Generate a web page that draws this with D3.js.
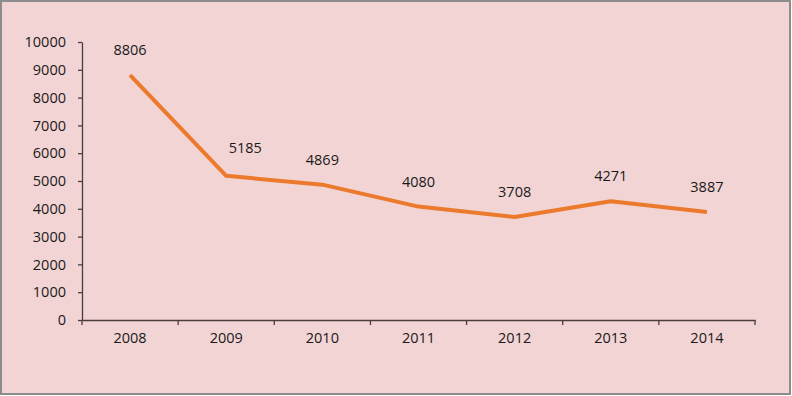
<!DOCTYPE html>
<html><head><meta charset="utf-8">
<script src="https://cdn.jsdelivr.net/npm/d3@7"></script>
<style>body{margin:0;background:#fff}svg{display:block}</style>
</head><body>
<script>
const years = ["2008","2009","2010","2011","2012","2013","2014"];
const values = [8806,5185,4869,4080,3708,4271,3887];
const yTicks = [0,1000,2000,3000,4000,5000,6000,7000,8000,9000,10000];

(function(){
const W = 792, H = 396;
const svg = d3.select("body").append("svg").attr("width", W).attr("height", H);
svg.append("rect").attr("x",1).attr("y",1).attr("width",W-3).attr("height",H-3)
  .attr("fill","#f2d4d4").attr("stroke","#8c8c8c").attr("stroke-width",2);

const mLeft = 82, mRight = 755, mTop = 42, mBottom = 320;
const x = d3.scaleBand().domain(years).range([mLeft, mRight]);
const y = d3.scaleLinear().domain([0,10000]).range([mBottom, mTop]);
const font = "'Open Sans', sans-serif";
const fs = 14.5;

const ya = svg.append("g").attr("transform",`translate(${mLeft},0)`)
  .call(d3.axisLeft(y).tickValues(yTicks).tickFormat(d3.format("d")).tickSize(4).tickPadding(12).tickSizeOuter(0));
const xa = svg.append("g").attr("transform",`translate(0,${mBottom})`)
  .call(d3.axisBottom(x).tickSize(0).tickPadding(13));
[ya, xa].forEach(g => {
  g.selectAll("path,line").attr("stroke","#4a3c3c").attr("stroke-width",1.3);
  g.selectAll("text").attr("font-family",font).attr("font-size",fs).attr("fill","#1a1a1a");
});
svg.append("g").selectAll("line").data(years.concat(["end"])).join("line")
  .attr("x1",(d,i)=> i < years.length ? x(d) : mRight)
  .attr("x2",(d,i)=> i < years.length ? x(d) : mRight)
  .attr("y1",mBottom).attr("y2",mBottom+5)
  .attr("stroke","#4a3c3c").attr("stroke-width",1.3);

const cx = d => x(d) + x.bandwidth()/2;
const line = d3.line().x((d,i)=>cx(years[i])).y(d=>y(d));
svg.append("path").datum(values).attr("d",line)
  .attr("fill","none").attr("stroke","#eb7a2c").attr("stroke-width",4).attr("stroke-linejoin","round");

svg.append("g").selectAll("text").data(values).join("text")
  .attr("x",(d,i)=>cx(years[i]) + (i===1 ? 19 : 0))
  .attr("y",(d,i)=>y(d) - (i===1 ? 28 : 25) + 5)
  .attr("text-anchor","middle")
  .attr("font-family",font).attr("font-size",fs).attr("fill","#1a1a1a")
  .text(d=>d);
})();
</script>
</body></html>
